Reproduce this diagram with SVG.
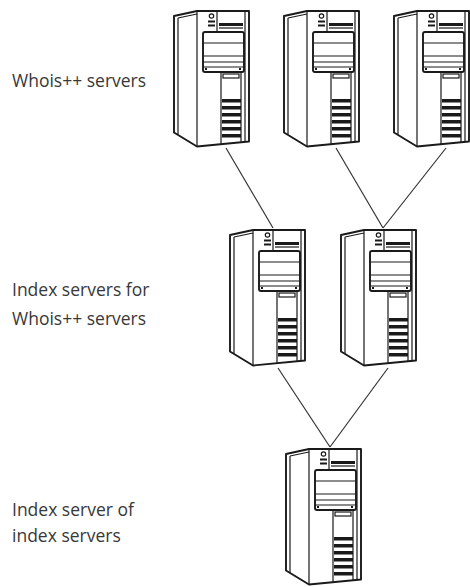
<svg xmlns="http://www.w3.org/2000/svg" xmlns:xlink="http://www.w3.org/1999/xlink" width="470" height="587" viewBox="0 0 470 587">
  <style>
    .label { font-family: "Open Sans", "Liberation Sans", sans-serif; font-size: 17.5px; fill: #383838; }
    .edge { stroke: #333; stroke-width: 1.2; fill: none; }
    .ln { stroke: #1a1a1a; fill: none; stroke-width: 1.2; }
    .thick { stroke: #1a1a1a; fill: #fff; stroke-width: 1.9; stroke-linejoin: round; }
    .dark { fill: #1a1a1a; }
  </style>
  <defs>
    <!-- tower server drawn in a 78 x 138 box -->
    <g id="server">
      <path class="thick" d="M1,6 L24,1 L76,1 L76,131.5 L24,136.5 L1,122.5 Z"/>
      <path class="ln" d="M5,8 L24,4 M5,8 L5,124.5 M24,1 L24,136.5 M72,1 L72,132"/>
      <!-- power button and indicators -->
      <circle class="ln" cx="38.5" cy="6" r="2.2"/>
      <rect class="dark" x="35" y="10.5" width="7" height="2"/>
      <rect class="dark" x="35" y="14.5" width="7" height="2"/>
      <!-- floppy bay -->
      <path class="ln" d="M44,1 L44,22"/>
      <rect class="dark" x="46" y="13" width="24" height="3"/>
      <path class="ln" d="M46,18 L70,18"/>
      <!-- drive bay block -->
      <rect class="thick" x="30" y="22" width="41" height="40" rx="2"/>
      <path class="ln" d="M30,33 L71,33 M30,46 L71,46 M30,52 L71,52 M30,57 L71,57"/>
      <rect class="dark" x="32" y="58" width="2" height="2"/>
      <rect class="dark" x="66" y="58" width="2" height="2"/>
      <!-- vent column -->
      <path class="ln" d="M48,62 L48,134 M68,62 L68,132"/>
      <rect class="ln" x="50" y="64" width="16" height="4"/>
      <g class="dark">
        <rect x="49" y="89" width="19" height="3.5"/>
        <rect x="49" y="96" width="19" height="3.5"/>
        <rect x="49" y="103" width="19" height="3.5"/>
        <rect x="49" y="110" width="19" height="3.5"/>
        <rect x="49" y="117" width="19" height="3.5"/>
        <rect x="49" y="124" width="19" height="3.5"/>
      </g>
    </g>
  </defs>

  <g id="connectors">
    <line class="edge" x1="226" y1="148" x2="273" y2="228"/>
    <line class="edge" x1="336" y1="148" x2="383" y2="228"/>
    <line class="edge" x1="446" y1="148" x2="383" y2="228"/>
    <line class="edge" x1="278" y1="368" x2="330" y2="447"/>
    <line class="edge" x1="388" y1="368" x2="330" y2="447"/>
  </g>

  <g id="labels">
    <text class="label" x="12" y="87">Whois++ servers</text>
    <text class="label" x="12" y="296">Index servers for</text>
    <text class="label" x="12" y="325">Whois++ servers</text>
    <text class="label" x="12" y="516">Index server of</text>
    <text class="label" x="12" y="542">index servers</text>
  </g>

  <g id="whois-server-1"><use xlink:href="#server" x="173" y="10"/></g>
  <g id="whois-server-2"><use xlink:href="#server" x="283" y="10"/></g>
  <g id="whois-server-3"><use xlink:href="#server" x="393" y="10"/></g>
  <g id="index-server-1"><use xlink:href="#server" x="229" y="229"/></g>
  <g id="index-server-2"><use xlink:href="#server" x="340" y="229"/></g>
  <g id="root-index-server"><use xlink:href="#server" x="285" y="448"/></g>
</svg>
